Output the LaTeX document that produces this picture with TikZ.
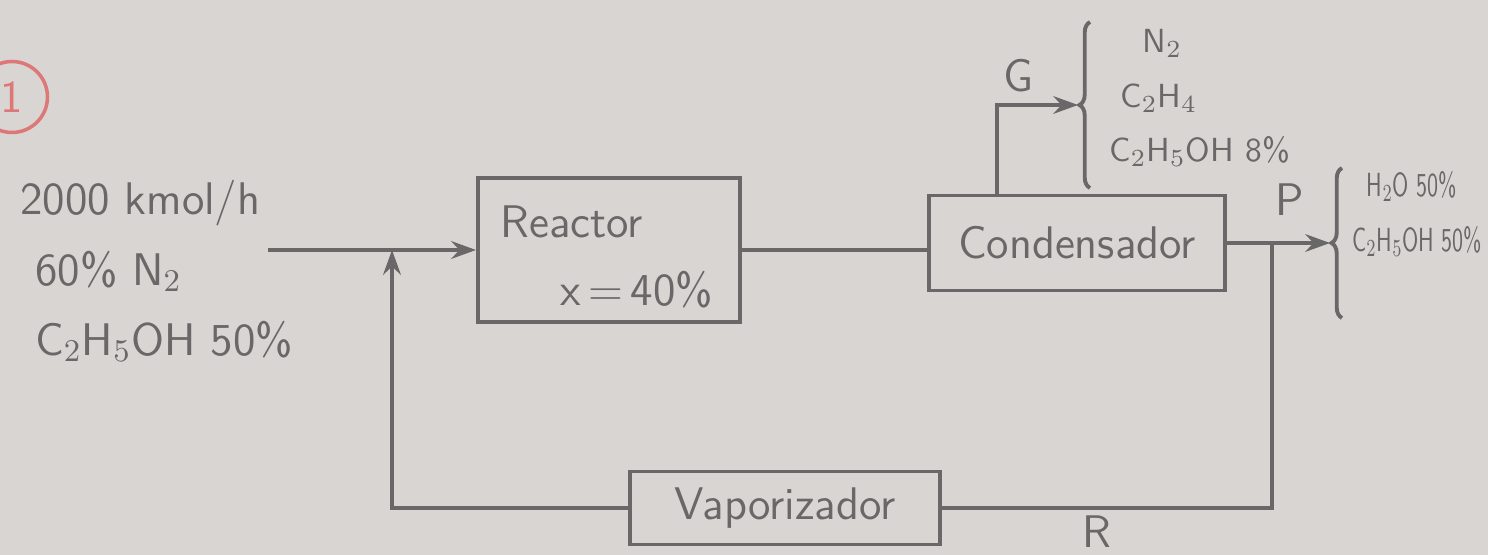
\documentclass[tikz,border=0pt]{standalone}
\usetikzlibrary{arrows.meta,decorations.pathreplacing,calc}
\definecolor{paper}{RGB}{216,213,211}
\definecolor{pen}{RGB}{105,103,103}
\definecolor{redpen}{RGB}{222,120,120}
\begin{document}
\begin{tikzpicture}[x=0.01cm,y=-0.01cm,
  pencil/.style={draw=pen, line width=1.1pt},
  unitbox/.style={pencil, rectangle, inner sep=0pt},
  lbl/.style={text=pen, font=\sffamily\fontsize{13}{20}\selectfont},
  smalllbl/.style={text=pen, font=\sffamily\fontsize{9.5}{15.5}\selectfont},
  flow/.style={pencil, -{Stealth[length=7pt,width=5pt]}},
  bracestyle/.style={pencil, decorate, decoration={brace, amplitude=3pt}},
  ]
\fill[paper] (0,0) rectangle (1488,555);
\clip (0,0) rectangle (1488,555);

% item number
\node[draw=redpen, line width=1pt, circle, text=redpen, minimum size=0.6cm, font=\sffamily\fontsize{13}{15}\selectfont] (num) at (12,97) {1};

% feed data
\node[lbl, align=left, anchor=north west] (feed) at (8,168) {2000 kmol/h\\ \ 60\% N$_2$\\ \ C$_2$H$_5$OH 50\%};

% units
\node[unitbox, minimum width=2.62cm, minimum height=1.44cm] (reactor) at (609,250) {};
\node[lbl, anchor=west] (reactortxt) at (488,222) {Reactor};
\node[lbl, anchor=west] (conv) at (548,290) {x\,=\,40\%};
\node[unitbox, lbl, minimum width=2.95cm, minimum height=0.95cm] (cond) at (1077,243) {Condensador};
\node[unitbox, lbl, minimum width=3.1cm, minimum height=0.73cm] (vap) at (785,508) {Vaporizador};

% feed line and recycle junction
\coordinate (feedin) at (268,250);
\coordinate (mix) at (392,250);
\draw[flow] (feedin) -- (reactor.west);
\draw[flow] (vap.west) -| (mix);

% reactor -> condenser
\draw[pencil] (reactor.east) -- (reactor.east -| cond.west);

% gas stream G
\coordinate (gturn) at (997,105);
\coordinate (gend) at (1078,105);
\draw[flow] (gturn |- cond.north) |- (gend);
\node[lbl] (glbl) at (1018,76) {G};
\coordinate (gbb) at (1090,188);
\coordinate (gbt) at (1090,22);
\draw[bracestyle] (gbb) -- (gbt);
\node[smalllbl, align=left, anchor=west] (gtxt) at (1097,98) {\quad N$_2$\\ \ C$_2$H$_4$\\ C$_2$H$_5$OH 8\%};

% product stream P
\coordinate (pend) at (1330,243);
\draw[flow] (cond.east) -- (pend);
\node[lbl] (plbl) at (1290,200) {P};
\coordinate (pbb) at (1342,318);
\coordinate (pbt) at (1342,168);
\draw[bracestyle] (pbb) -- (pbt);
\node[smalllbl, anchor=west, inner sep=1pt] (ptxt) at (1348,214) {\scalebox{0.66}[1]{\shortstack[l]{\ \ H$_2$O 50\%\\[4pt] C$_2$H$_5$OH 50\%}}};

% recycle R
\coordinate (psplit) at (1272,243);
\draw[pencil] (psplit) |- (vap.east);
\node[lbl, inner sep=1pt] (rlbl) at (1097,532) {R};
\end{tikzpicture}
\end{document}
